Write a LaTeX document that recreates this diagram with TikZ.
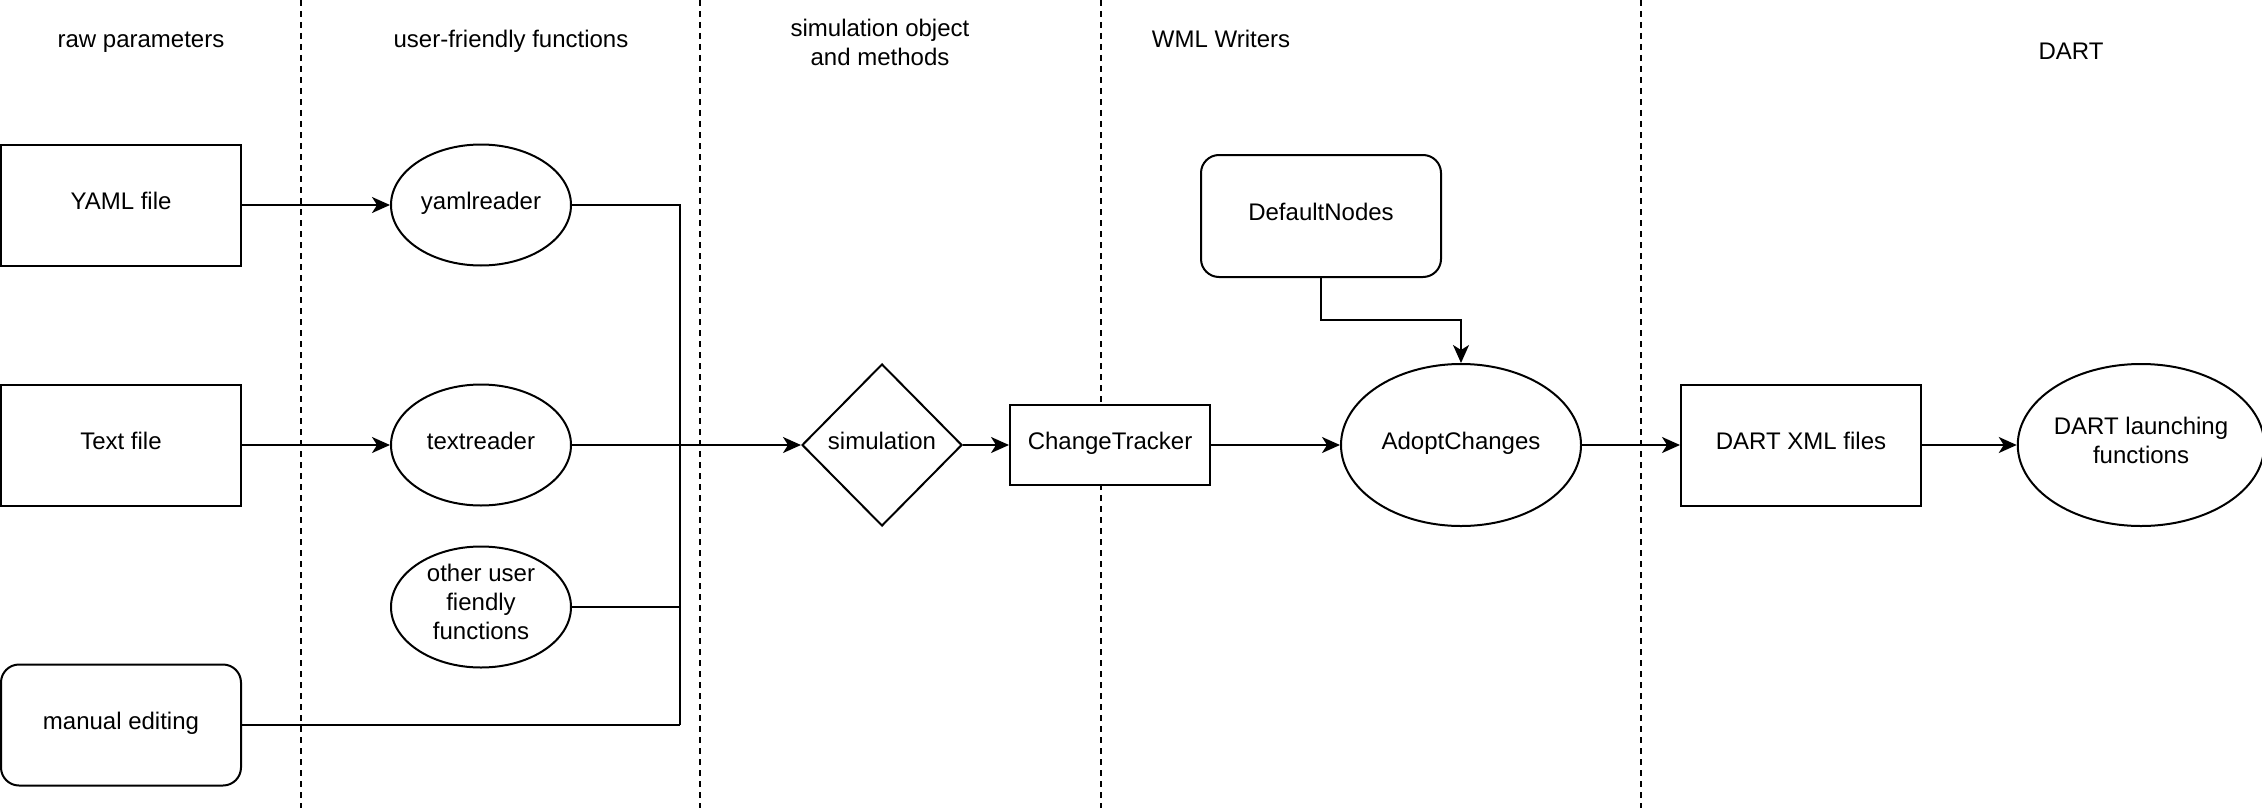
\documentclass[tikz,border=0pt]{standalone}
\usepackage{fontspec}
\setmainfont{Liberation Sans}
\usetikzlibrary{shapes.geometric,arrows.meta}
\begin{document}
\begin{tikzpicture}[x=0.5pt,y=-0.5pt,
  every node/.style={font=\fontsize{12pt}{14.5pt}\selectfont, align=center},
  lane/.style={line width=1pt, dash pattern=on 3pt off 2.5pt},
  title/.style={inner sep=0pt, text depth=5pt},
  one/.style={text height=9pt, text depth=5pt},
  multi/.style={text depth=5pt},
  box/.style={draw, line width=1pt, fill=white, inner sep=0pt, minimum width=120pt, minimum height=60.5pt},
  rbox/.style={box, rounded corners=9pt},
  ell/.style={ellipse, draw, line width=1pt, fill=white, inner sep=0pt},
  dia/.style={diamond, draw, line width=1pt, fill=white, inner sep=0pt, minimum width=80pt, minimum height=81pt},
  conn/.style={line width=1pt},
  arr/.style={conn, -{Stealth[length=9pt,width=8pt,inset=2.5pt]}}
]
\useasboundingbox (0,0) rectangle (2262,808);
% lanes
\coordinate (l1t) at (301,0); \coordinate (l1b) at (301,808);
\coordinate (l2t) at (700,0); \coordinate (l2b) at (700,808);
\coordinate (l3t) at (1101,0); \coordinate (l3b) at (1101,808);
\coordinate (l4t) at (1641,0); \coordinate (l4b) at (1641,808);
\draw[lane] (l1t) -- (l1b);
\draw[lane] (l2t) -- (l2b);
\draw[lane] (l3t) -- (l3b);
\draw[lane] (l4t) -- (l4b);
% titles
\node[title, one] (t1) at (141,44) {raw parameters};
\node[title, one] (t2) at (511,44) {user-friendly functions};
\node[title] (t3) at (880,47) {simulation object\\and methods};
\node[title, one] (t4) at (1221,44) {WML Writers};
\node[title, one] (t5) at (2071,56) {DART};
% nodes
\node[box, one] (yaml) at (121,205) {YAML file};
\node[box, one] (text) at (121,445) {Text file};
\node[rbox, one] (manual) at (121,725) {manual editing};
\node[ell, one, minimum width=90pt, minimum height=60.5pt] (yamlr) at (481,205) {yamlreader};
\node[ell, one, minimum width=90pt, minimum height=60.5pt] (textr) at (481,445) {textreader};
\node[ell, multi, minimum width=90pt, minimum height=60.5pt] (other) at (481,607) {other user\\fiendly\\functions};
\node[dia, one] (sim) at (882,445) {simulation};
\node[box, one, minimum width=100pt, minimum height=40pt] (ct) at (1110,445) {ChangeTracker};
\node[rbox, one, minimum height=61pt] (dn) at (1321,216) {DefaultNodes};
\node[ell, one, minimum width=120pt, minimum height=81pt] (adopt) at (1461,445) {AdoptChanges};
\node[box, one] (xml) at (1801,445) {DART XML files};
\node[ell, multi, minimum width=120pt, minimum height=81pt] (launch) at (2141,445) {DART launching\\functions};
% connectors
\coordinate (jb) at (680,725);
\draw[arr] (yaml) -- (yamlr);
\draw[arr] (text) -- (textr);
\draw[conn] (yamlr.east) -| (jb);
\draw[conn] (other.east) -- (other.east -| jb);
\draw[conn] (manual.east |- jb) -- (jb);
\draw[arr] (textr) -- (sim);
\draw[arr] (sim) -- (ct);
\draw[arr] (ct) -- (adopt);
\coordinate (dnb) at (1321,320);
\draw[arr] (dn.south) -- (dnb) -| (adopt.north);
\draw[arr] (adopt) -- (xml);
\draw[arr] (xml) -- (launch);
\end{tikzpicture}
\end{document}
